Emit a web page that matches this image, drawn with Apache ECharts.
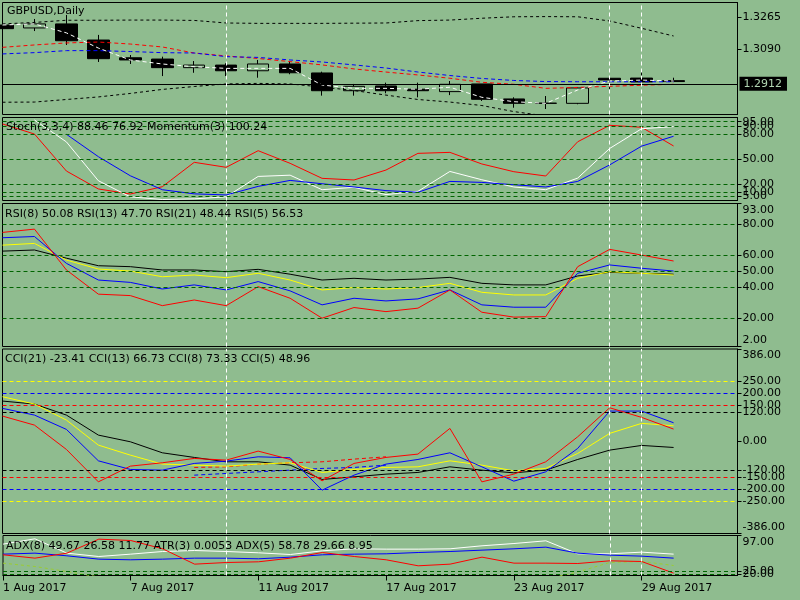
<!DOCTYPE html>
<html>
<head>
<meta charset="utf-8">
<title>GBPUSD,Daily</title>
<script src="https://cdn.jsdelivr.net/npm/echarts@6.0.0/dist/echarts.min.js"></script>
<style>
    html, body { margin: 0; padding: 0; background: #8fbc8f; }
    #chart { width: 800px; height: 600px; }
</style>
</head>
<body>
<div id="chart"></div>
<script>

/* ===========================
   Data
=========================== */

const dates = ["1 Aug 2017", "2 Aug 2017", "3 Aug 2017", "4 Aug 2017", "7 Aug 2017", "8 Aug 2017",
    "9 Aug 2017", "10 Aug 2017", "11 Aug 2017", "14 Aug 2017", "15 Aug 2017", "16 Aug 2017",
    "17 Aug 2017", "18 Aug 2017", "21 Aug 2017", "22 Aug 2017", "23 Aug 2017", "24 Aug 2017",
    "25 Aug 2017", "28 Aug 2017", "29 Aug 2017", "30 Aug 2017"];
const emptyDates = ["31 Aug 2017", "1 Sep 2017"];
const markerDates = ["10 Aug 2017", "28 Aug 2017", "29 Aug 2017"];

const open  = [1.3221, 1.3205, 1.3227, 1.3139, 1.3042, 1.3035, 1.2988, 1.3002, 1.2971, 1.3008, 1.2959, 1.2862, 1.2888, 1.2870, 1.2857, 1.2899, 1.2817, 1.2793, 1.2793, 1.2930, 1.2931, 1.2917];
const close = [1.3201, 1.3227, 1.3135, 1.3037, 1.3030, 1.2988, 1.3002, 1.2971, 1.3008, 1.2960, 1.2862, 1.2886, 1.2862, 1.2862, 1.2897, 1.2815, 1.2793, 1.2794, 1.2877, 1.2921, 1.2910, 1.2912];
const low   = [1.3197, 1.3188, 1.3112, 1.3019, 1.3008, 1.2942, 1.2960, 1.2942, 1.2933, 1.2952, 1.2835, 1.2835, 1.2848, 1.2826, 1.2838, 1.2806, 1.2769, 1.2762, 1.2788, 1.2870, 1.2909, 1.2911];
const high  = [1.3226, 1.3254, 1.3276, 1.3167, 1.3057, 1.3048, 1.3024, 1.3012, 1.3030, 1.3024, 1.2966, 1.2899, 1.2906, 1.2906, 1.2915, 1.2899, 1.2826, 1.2833, 1.2881, 1.2931, 1.2975, 1.2933];

const priceLine = [1.3221, 1.3227, 1.3178, 1.3095, 1.3030, 1.3008, 1.2993, 1.2984, 1.2984, 1.2984, 1.2893, 1.2875, 1.2875, 1.2870, 1.2881, 1.2826, 1.2802, 1.2793, 1.2866, 1.2915, 1.2920, 1.2915];
const maFast    = [1.3099, 1.3112, 1.3123, 1.3128, 1.3117, 1.3101, 1.3068, 1.3052, 1.3038, 1.3021, 1.3003, 1.2981, 1.2964, 1.2948, 1.2930, 1.2908, 1.2897, 1.2875, 1.2880, 1.2886, 1.2892, 1.2897];
const maSlow    = [1.3063, 1.3070, 1.3081, 1.3081, 1.3076, 1.3070, 1.3068, 1.3048, 1.3044, 1.3030, 1.3019, 1.3003, 1.2986, 1.2964, 1.2945, 1.2929, 1.2918, 1.2912, 1.2911, 1.2911, 1.2911, 1.2911];
const bandUpper = [1.3227, 1.3235, 1.3247, 1.3247, 1.3248, 1.3248, 1.3246, 1.3232, 1.3230, 1.3230, 1.3230, 1.3231, 1.3232, 1.3245, 1.3248, 1.3258, 1.3266, 1.3267, 1.3266, 1.3243, 1.3203, 1.3161];
const bandLower = [1.2799, 1.2800, 1.2814, 1.2828, 1.2847, 1.2869, 1.2885, 1.2899, 1.2902, 1.2899, 1.2882, 1.2863, 1.2838, 1.2814, 1.2800, 1.2781, 1.2748, 1.2724, 1.2713, 1.2707, 1.2707, 1.2713];
const bidPrice = 1.2912;

const stochMain   = [null, 97, 70.6, 23.8, 4.4, 1.2, 2, 4.4, 29, 30.5, 13, 15.9, 7.1, 11, 35, 25, 16.3, 13, 27, 62.7, 86.5, 89];
const stochSignal = [null, null, 79.8, 52.8, 29.8, 13, 8, 6.7, 17, 24.2, 20.2, 16.3, 11.9, 9.9, 23, 21.8, 19, 16.3, 23, 42.9, 65.5, 77.4];
const momentum    = [92.2, 80.1, 35.5, 13.9, 7.8, 16.6, 46, 40, 60, 44.8, 26.7, 24.7, 36.7, 56.8, 58, 44, 34.7, 29.5, 70.8, 90.6, 88.2, 65.7];

const rsi5  = [74.6, 76.7, 50.7, 35.3, 34.4, 28, 31.6, 28, 40.1, 32.7, 20, 26.8, 24.2, 26.4, 38, 23.8, 20.7, 21, 52.8, 63.8, 60.2, 56.4];
const rsi8  = [71.2, 72, 54.9, 44.3, 42.8, 38.6, 41.2, 38, 43.3, 37.4, 28.5, 32.7, 31, 32.3, 38, 28.5, 27, 27, 48.6, 53.9, 51.8, 50];
const rsi13 = [66.5, 67.6, 57, 51.3, 50, 46.4, 47.5, 45.8, 48.6, 44.3, 38, 39.5, 38.6, 39.5, 42.2, 36.5, 34.8, 34.8, 45.4, 49.6, 48.6, 47.5];
const rsi21 = [62.7, 63.4, 58.2, 53.4, 52.8, 50.7, 50.7, 49.6, 51.1, 48, 44.3, 45.4, 44.3, 44.9, 46, 42.2, 41.2, 41.2, 46.9, 49.2, 48.6, 48];

const cci5  = [105.3, 67.6, -34.2, -169.8, -104.1, -90.1, -71.9, -79, -41.3, -76.2, -165.6, -92.8, -67.7, -53.8, 53.8, -169.9, -137.6, -86, 18.7, 140.1, 99.8, 50.9];
const cci8  = [137.6, 109.5, 49.6, -81.9, -118, -120.9, -92.8, -83.2, -65.1, -69.2, -204.6, -141.8, -95.7, -76.2, -48.3, -107, -167, -128, -30, 126.3, 126.3, 77.3];
const cci13 = [186.3, 155.6, 88.6, -16.1, -58, -95.7, -99.9, -104.1, -95.7, -90.1, -130.6, -118, -109.6, -107, -81.9, -99.9, -123.8, -113.8, -50.9, 32.9, 74.8, 64.7];
const cci21 = [168.2, 155.6, 109.5, 25.7, -2.2, -48.3, -67.7, -86, -86, -99.9, -159.9, -148.9, -137.6, -130.6, -107, -120.9, -132.2, -120.9, -76.2, -37.1, -17.5, -26];
const cciRedDash  = [null, null, null, null, null, null, -109.6, -107, -95.8, -90.3, -86, -74.8, -65, null, null, null, null, null, null, null, null, null];
const cciBlueDash = [null, null, null, null, null, null, -141.9, -134.8, -128, -120.9, -113.8, -109.6, -100, null, null, null, null, null, null, null, null, null];

const adxMain = [79.7, 90.4, 61.7, 55, 59.7, 65, 67, 65, 62.4, 59, 66.4, 70.4, 69.7, 69.7, 70.4, 76.4, 81, 86.4, 60.4, 60.4, 63.7, 59.7];
const adxPlus = [59.7, 61.7, 56.4, 49.7, 48.4, 49.7, 51.7, 51.7, 50.4, 53.7, 58.4, 59.7, 60.4, 63, 65, 67.7, 70.4, 73.7, 61.7, 57.7, 55.7, 51.7];
const adxMinus = [58.4, 51.7, 61.7, 89.7, 87, 70.4, 39.7, 43, 44.4, 51.7, 63, 55, 48.4, 36.4, 39.7, 53.7, 41.7, 41.7, 41, 46.4, 45, 21.7];
const atr = [41.7, 35, 25, 14, 12, 10, 9, 8, 8, 9, 10, 10, 9, 8, 9, 10, 9, 10, 24, 43, 45, 37];

const mainTicks  = [1.3265, 1.3090];
const stochTicks = [100, 95, 90, 80, 50, 20, 10, 5, 0];
const rsiTicks   = [93, 80, 60, 50, 40, 20, 2];
const cciTicks   = [386, 250, 200, 150, 120, 0, -120, -150, -200, -250, -386];
const adxTicks   = [97, 25, 20, 17];

const stochLevels = [95, 90, 80, 50, 20, 10, 5];
const rsiLevels   = [80, 60, 50, 40, 20];
const cciLevels   = [250, 200, 150, 120, -120, -150, -200, -250];
const adxLevels   = [25, 20];

/* ===========================
   Style
=========================== */

const BG = "#8fbc8f";
const FONT = "DejaVu Sans";
const LEVEL = "#006400";
const cciLevelColors = ["#ffff00", "#0000ff", "#ff0000", "#000000", "#000000", "#ff0000", "#0000ff", "#ffff00"];

const panels = [
    { top: 2.5,   height: 112 },
    { top: 117.5, height: 83 },
    { top: 203.5, height: 143 },
    { top: 349,   height: 184.5 },
    { top: 535.5, height: 40 }
];

/* ===========================
   Helpers
=========================== */

function categoryAxis(grid, showLabels) {

    return {
        type: "category",
        gridIndex: grid,
        data: dates.concat(emptyDates),
        boundaryGap: false,
        axisLine: { show: showLabels, lineStyle: { color: "#000" } },
        axisTick: {
            show: showLabels,
            interval: 3,
            length: 5,
            lineStyle: { color: "#000" }
        },
        axisLabel: {
            show: showLabels,
            interval: 3,
            align: "left",
            margin: 7,
            color: "#000",
            fontFamily: FONT,
            fontSize: 11
        },
        splitLine: { show: false }
    };

}

function valueAxis(grid, min, max, ticks, digits) {

    const font = { fontFamily: FONT, fontSize: 11, color: "#000" };

    return {
        type: "value",
        gridIndex: grid,
        position: "right",
        min: min,
        max: max,
        splitLine: { show: false },
        axisLine: { show: true, lineStyle: { color: "#000" } },
        axisTick: {
            show: true,
            length: 4,
            customValues: ticks,
            lineStyle: { color: "#000" }
        },
        axisLabel: {
            show: true,
            margin: 5,
            customValues: ticks,
            fontFamily: FONT,
            fontSize: 11,
            color: "#000",
            formatter: v => {
                const s = v.toFixed(digits);
                if (v === max) return "{top|" + s + "}";
                if (v === min) return "{bot|" + s + "}";
                return s;
            },
            rich: {
                top: Object.assign({ padding: [13, 0, 0, 0] }, font),
                bot: Object.assign({ padding: [0, 0, 13, 0] }, font)
            }
        }
    };

}

function lineSeries(name, grid, data, color, dash) {

    return {
        name: name,
        type: "line",
        xAxisIndex: grid,
        yAxisIndex: grid,
        data: data,
        symbol: "none",
        silent: true,
        clip: true,
        lineStyle: { color: color, width: 1, type: dash || "solid" },
        itemStyle: { color: color },
        z: 3
    };

}

function panelMarks(levels, colors) {

    const data = levels.map((v, i) => ({
        yAxis: v,
        lineStyle: { color: colors ? colors[i] : LEVEL, type: [4, 3], width: 1 }
    }));

    markerDates.forEach(d => data.push({
        xAxis: d,
        lineStyle: { color: "#fff", type: [4, 3], width: 1 }
    }));

    return {
        silent: true,
        symbol: ["none", "none"],
        label: { show: false },
        emphasis: { disabled: true },
        data: data
    };

}

/* ===========================
   Series
=========================== */

const candles = dates.map((d, i) => [open[i], close[i], low[i], high[i]]);

const series = [

    {
        name: "GBPUSD",
        type: "candlestick",
        xAxisIndex: 0,
        yAxisIndex: 0,
        data: candles,
        barWidth: 22,
        clip: true,
        silent: true,
        itemStyle: {
            color: BG,
            color0: "#000",
            borderColor: "#000",
            borderColor0: "#000",
            borderWidth: 1
        },
        markLine: {
            silent: true,
            symbol: ["none", "none"],
            emphasis: { disabled: true },
            data: [{
                yAxis: bidPrice,
                lineStyle: { color: "#000", type: "solid", width: 1 },
                label: {
                    show: true,
                    position: "end",
                    distance: 2,
                    formatter: bidPrice.toFixed(4),
                    backgroundColor: "#000",
                    color: "#b0d4b0",
                    padding: [2, 5, 1, 4],
                    fontFamily: FONT,
                    fontSize: 11
                }
            }]
        }
    },

    Object.assign(lineSeries("Band upper", 0, bandUpper, "#000", [3, 3]), { markLine: panelMarks([]) }),
    lineSeries("Band lower", 0, bandLower, "#000", [3, 3]),
    lineSeries("MA fast", 0, maFast, "#ff0000", [4, 3]),
    lineSeries("MA slow", 0, maSlow, "#0000ff", [4, 3]),
    lineSeries("Price", 0, priceLine, "#ffffff", [4, 3]),

    Object.assign(lineSeries("Momentum", 1, momentum, "#ff0000"), { markLine: panelMarks(stochLevels) }),
    lineSeries("Stoch main", 1, stochMain, "#ffffff"),
    lineSeries("Stoch signal", 1, stochSignal, "#0000ff"),

    Object.assign(lineSeries("RSI(21)", 2, rsi21, "#000000"), { markLine: panelMarks(rsiLevels) }),
    lineSeries("RSI(13)", 2, rsi13, "#ffff00"),
    lineSeries("RSI(8)", 2, rsi8, "#0000ff"),
    lineSeries("RSI(5)", 2, rsi5, "#ff0000"),

    Object.assign(lineSeries("CCI red dash", 3, cciRedDash, "#ff0000", [4, 3]), { markLine: panelMarks(cciLevels, cciLevelColors) }),
    lineSeries("CCI blue dash", 3, cciBlueDash, "#0000ff", [4, 3]),
    lineSeries("CCI(21)", 3, cci21, "#000000"),
    lineSeries("CCI(13)", 3, cci13, "#ffff00"),
    lineSeries("CCI(8)", 3, cci8, "#0000ff"),
    lineSeries("CCI(5)", 3, cci5, "#ff0000"),

    Object.assign(lineSeries("ATR(3)", 4, atr, "#9acd32", [3, 3]), { markLine: panelMarks(adxLevels) }),
    lineSeries("ADX", 4, adxMain, "#ffffff"),
    lineSeries("+DI", 4, adxPlus, "#0000ff"),
    lineSeries("-DI", 4, adxMinus, "#ff0000")

];

/* ===========================
   Chart
=========================== */

const titleStyle = { fontFamily: FONT, fontSize: 11, fontWeight: "normal", color: "#000" };

const chart = echarts.init(document.getElementById("chart"));

chart.setOption({

    animation: false,
    backgroundColor: BG,
    textStyle: { fontFamily: FONT },

    title: [
        { text: "GBPUSD,Daily", left: 7, top: 6 },
        { text: "Stoch(3,3,4) 88.46 76.92 Momentum(3) 100.24", left: 6, top: 121.5 },
        { text: "RSI(8) 50.08 RSI(13) 47.70 RSI(21) 48.44 RSI(5) 56.53", left: 5, top: 209 },
        { text: "CCI(21) -23.41 CCI(13) 66.73 CCI(8) 73.33 CCI(5) 48.96", left: 5, top: 354 },
        { text: "ADX(8) 49.67 26.58 11.77 ATR(3) 0.0053 ADX(5) 58.78 29.66 8.95", left: 6, top: 541 }
    ].map(t => Object.assign(t, { padding: 0, textStyle: titleStyle, z: 10 })),

    grid: panels.map(p => ({
        left: 2.5,
        right: 62.5,
        top: p.top,
        height: p.height,
        show: true,
        borderColor: "#000",
        borderWidth: 1,
        backgroundColor: "transparent"
    })),

    xAxis: [0, 1, 2, 3, 4].map(i => categoryAxis(i, i === 4)),

    yAxis: [
        valueAxis(0, 1.2732, 1.3344, mainTicks, 4),
        valueAxis(1, 0, 100, stochTicks, 2),
        valueAxis(2, 2, 93, rsiTicks, 2),
        valueAxis(3, -386, 386, cciTicks, 2),
        valueAxis(4, 17, 97, adxTicks, 2)
    ],

    series: series

});

</script>
</body>
</html>
